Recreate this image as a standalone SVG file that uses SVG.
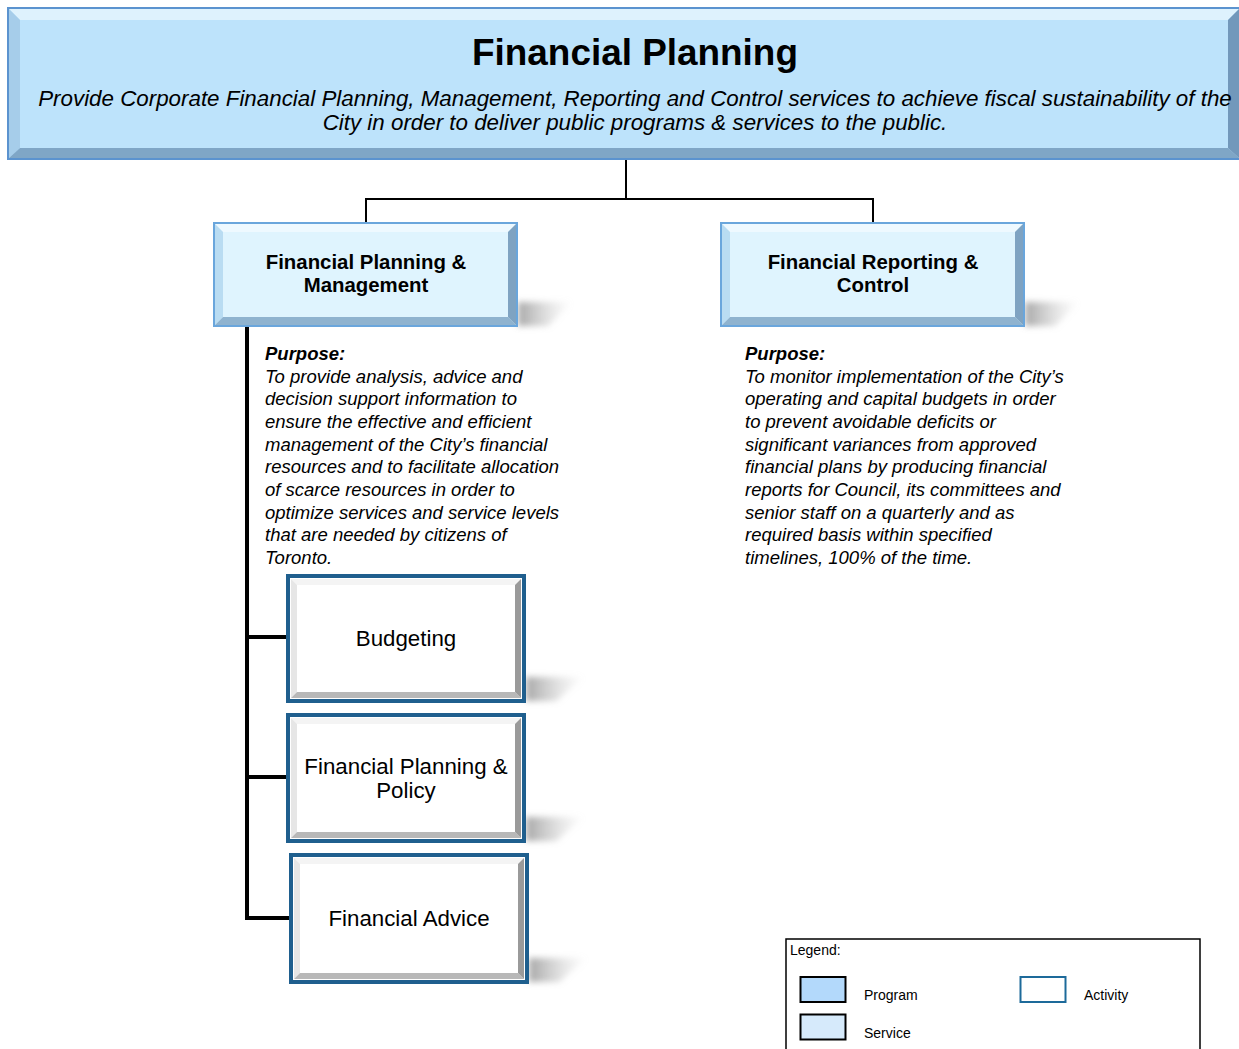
<svg xmlns="http://www.w3.org/2000/svg" width="1239" height="1049" viewBox="0 0 1239 1049">
<defs>
<style>
text{font-family:"Liberation Sans",Arial,sans-serif;fill:#000}
.title{font-size:36.9px;font-weight:bold;text-anchor:middle}
.sub{font-size:22.35px;font-style:italic;text-anchor:middle}
.svc{font-size:20.4px;font-weight:bold;text-anchor:middle}
.act{font-size:22.3px;text-anchor:middle}
.pur{font-size:18.5px;font-style:italic}
.purh{font-size:18.5px;font-style:italic;font-weight:bold}
.leg{font-size:14px}
.conn{stroke:#000;fill:none}
</style>
<linearGradient id="shd" x1="0" y1="0" x2="1" y2="0">
<stop offset="0" stop-color="#8a8a8a" stop-opacity="0.75"/>
<stop offset="1" stop-color="#c0c0c0" stop-opacity="0"/>
</linearGradient>
<filter id="blur" x="-20%" y="-50%" width="140%" height="200%"><feGaussianBlur stdDeviation="3"/></filter>
</defs>

<g id="connectors">
<path class="conn" stroke-width="2" d="M626,160 V199 M365,199 H874 M366,198 V223 M873,198 V223"/>
<path class="conn" stroke-width="4" d="M247,327 V918 M245,637 H288 M245,777 H288 M245,918 H291"/>
</g>

<g id="program">
<rect x="8" y="8" width="1240" height="151" fill="#bde3fb" stroke="#5b93cf" stroke-width="2"/>
<polygon points="9,9 1239,9 1228,20 20,20" fill="#def2fd"/>
<polygon points="9,9 20,20 20,148 9,158" fill="#a6cdea"/>
<polygon points="9,158 20,148 1228,148 1239,158" fill="#7fa6c6"/>
<polygon points="1239,9 1228,20 1228,148 1239,158" fill="#7298bb"/>
<rect x="20" y="20" width="1208" height="128" fill="#bde3fb"/>
<text class="title" x="635" y="65">Financial Planning</text>
<text class="sub" x="635" y="106">Provide Corporate Financial Planning, Management, Reporting and Control services to achieve fiscal sustainability of the</text>
<text class="sub" x="635" y="130">City in order to deliver public programs &amp; services to the public.</text>
</g>

<g id="service-fpm">
<polygon points="518,302 572,302 548,326 518,326" fill="url(#shd)" filter="url(#blur)"/>
<rect x="214" y="223" width="303" height="103" fill="#dff4fe" stroke="#6aa6dc" stroke-width="2"/>
<polygon points="215,224 516,224 508,232 223,232" fill="#eef9ff"/>
<polygon points="215,224 223,232 223,317 215,325" fill="#b9dcf2"/>
<polygon points="215,325 223,317 508,317 516,325" fill="#8fb3cf"/>
<polygon points="516,224 508,232 508,317 516,325" fill="#7fa3c2"/>
<rect x="223" y="232" width="285" height="85" fill="#dff4fe"/>
<text class="svc" x="366" y="269">Financial Planning &amp;</text>
<text class="svc" x="366" y="292">Management</text>
</g>

<g id="service-frc">
<polygon points="1025,302 1079,302 1055,326 1025,326" fill="url(#shd)" filter="url(#blur)"/>
<rect x="721" y="223" width="303" height="103" fill="#dff4fe" stroke="#6aa6dc" stroke-width="2"/>
<polygon points="722,224 1023,224 1015,232 730,232" fill="#eef9ff"/>
<polygon points="722,224 730,232 730,317 722,325" fill="#b9dcf2"/>
<polygon points="722,325 730,317 1015,317 1023,325" fill="#8fb3cf"/>
<polygon points="1023,224 1015,232 1015,317 1023,325" fill="#7fa3c2"/>
<rect x="730" y="232" width="285" height="85" fill="#dff4fe"/>
<text class="svc" x="873" y="269">Financial Reporting &amp;</text>
<text class="svc" x="873" y="292">Control</text>
</g>

<g id="purpose-fpm">
<text class="purh" x="265" y="360">Purpose:</text>
<text class="pur" x="265" y="383">To provide analysis, advice and</text>
<text class="pur" x="265" y="405">decision support information to</text>
<text class="pur" x="265" y="428">ensure the effective and efficient</text>
<text class="pur" x="265" y="451">management of the City’s financial</text>
<text class="pur" x="265" y="473">resources and to facilitate allocation</text>
<text class="pur" x="265" y="496">of scarce resources in order to</text>
<text class="pur" x="265" y="519">optimize services and service levels</text>
<text class="pur" x="265" y="541">that are needed by citizens of</text>
<text class="pur" x="265" y="564">Toronto.</text>
</g>

<g id="purpose-frc">
<text class="purh" x="745" y="360">Purpose:</text>
<text class="pur" x="745" y="383">To monitor implementation of the City’s</text>
<text class="pur" x="745" y="405">operating and capital budgets in order</text>
<text class="pur" x="745" y="428">to prevent avoidable deficits or</text>
<text class="pur" x="745" y="451">significant variances from approved</text>
<text class="pur" x="745" y="473">financial plans by producing financial</text>
<text class="pur" x="745" y="496">reports for Council, its committees and</text>
<text class="pur" x="745" y="519">senior staff on a quarterly and as</text>
<text class="pur" x="745" y="541">required basis within specified</text>
<text class="pur" x="745" y="564">timelines, 100% of the time.</text>
</g>

<g id="activity-budgeting">
<polygon points="526,677 584,677 556,701 526,701" fill="url(#shd)" filter="url(#blur)"/>
<rect x="288" y="576" width="236" height="125" fill="#fff" stroke="#1f5f8e" stroke-width="4"/>
<polygon points="291,579 521,579 515,585 297,585" fill="#f4f4f4"/>
<polygon points="291,579 297,585 297,692 291,698" fill="#e6e6e6"/>
<polygon points="291,698 297,692 515,692 521,698" fill="#b8b8b8"/>
<polygon points="521,579 515,585 515,692 521,698" fill="#9a9a9a"/>
<rect x="297" y="585" width="218" height="107" fill="#fff"/>
<text class="act" x="406" y="646">Budgeting</text>
</g>

<g id="activity-fpp">
<polygon points="526,817 584,817 556,841 526,841" fill="url(#shd)" filter="url(#blur)"/>
<rect x="288" y="715" width="236" height="126" fill="#fff" stroke="#1f5f8e" stroke-width="4"/>
<polygon points="291,718 521,718 515,724 297,724" fill="#f4f4f4"/>
<polygon points="291,718 297,724 297,832 291,838" fill="#e6e6e6"/>
<polygon points="291,838 297,832 515,832 521,838" fill="#b8b8b8"/>
<polygon points="521,718 515,724 515,832 521,838" fill="#9a9a9a"/>
<rect x="297" y="724" width="218" height="108" fill="#fff"/>
<text class="act" x="406" y="774">Financial Planning &amp;</text>
<text class="act" x="406" y="798">Policy</text>
</g>

<g id="activity-advice">
<polygon points="529,958 587,958 559,982 529,982" fill="url(#shd)" filter="url(#blur)"/>
<rect x="291" y="855" width="236" height="127" fill="#fff" stroke="#1f5f8e" stroke-width="4"/>
<polygon points="294,858 524,858 518,864 300,864" fill="#f4f4f4"/>
<polygon points="294,858 300,864 300,973 294,979" fill="#e6e6e6"/>
<polygon points="294,979 300,973 518,973 524,979" fill="#b8b8b8"/>
<polygon points="524,858 518,864 518,973 524,979" fill="#9a9a9a"/>
<rect x="300" y="864" width="218" height="109" fill="#fff"/>
<text class="act" x="409" y="926">Financial Advice</text>
</g>

<g id="legend">
<rect x="786" y="939" width="414" height="120" fill="#fff" stroke="#000" stroke-width="1.5"/>
<text class="leg" x="790" y="955">Legend:</text>
<rect x="800.5" y="977" width="45" height="25" fill="#b3d9fb" stroke="#000" stroke-width="2"/>
<text class="leg" x="864" y="1000">Program</text>
<rect x="800.5" y="1014.5" width="45" height="25" fill="#d6eafb" stroke="#000" stroke-width="2"/>
<text class="leg" x="864" y="1038">Service</text>
<rect x="1020.5" y="977" width="45" height="25" fill="#fff" stroke="#1d6a9a" stroke-width="2"/>
<text class="leg" x="1084" y="1000">Activity</text>
</g>
</svg>
